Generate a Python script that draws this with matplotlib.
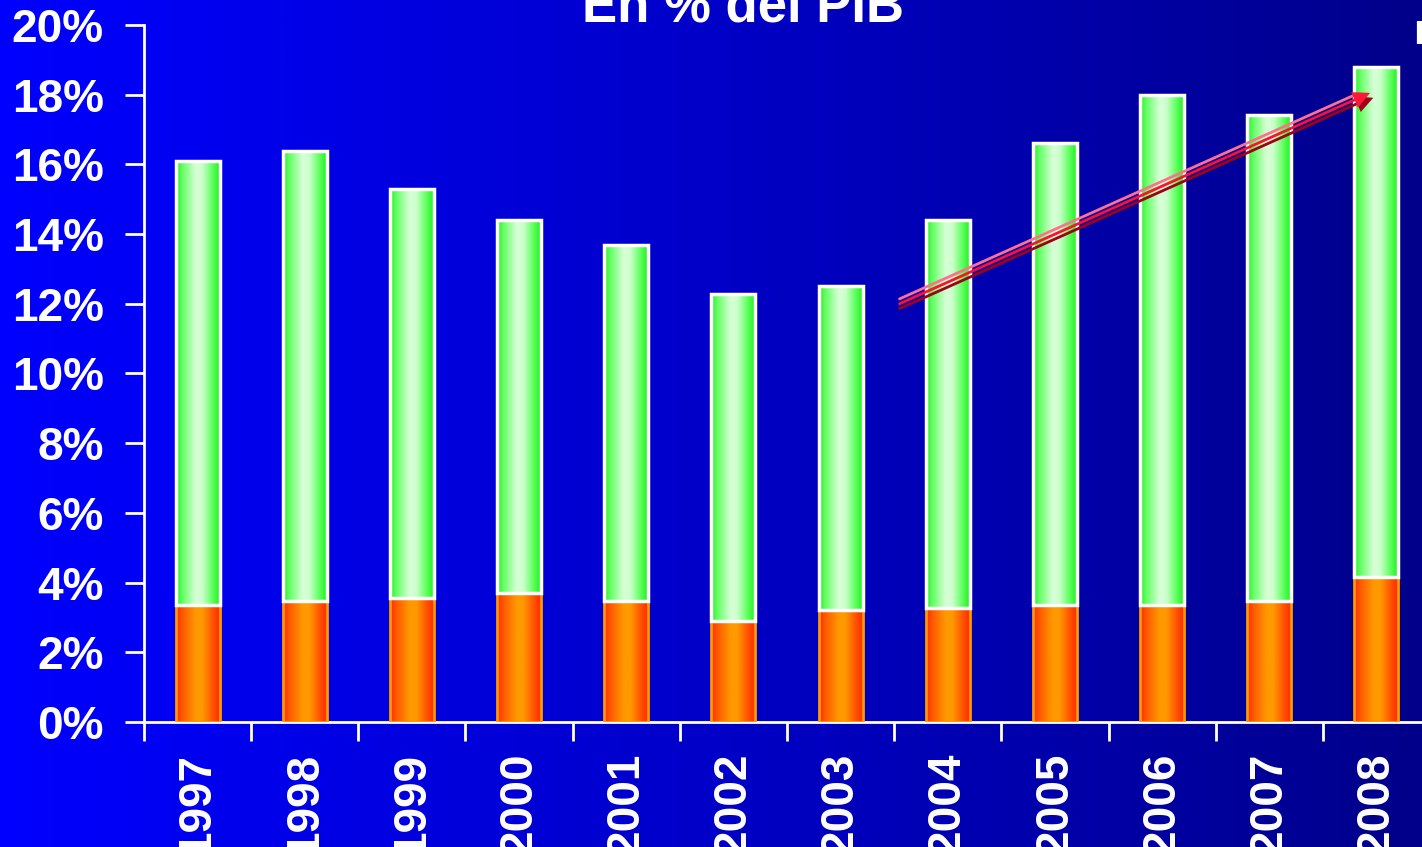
import numpy as np
import matplotlib
matplotlib.use("Agg")
import matplotlib.pyplot as plt
from matplotlib.colors import LinearSegmentedColormap

years = ["1997", "1998", "1999", "2000", "2001", "2002", "2003", "2004", "2005", "2006", "2007", "2008"]
bottom_vals = [3.36, 3.47, 3.56, 3.70, 3.47, 2.90, 3.21, 3.27, 3.36, 3.36, 3.47, 4.16]
total_vals = [16.1, 16.38, 15.29, 14.4, 13.69, 12.28, 12.51, 14.4, 16.61, 17.99, 17.42, 18.79]
top_vals = [t - b for t, b in zip(total_vals, bottom_vals)]
yticks = [0, 2, 4, 6, 8, 10, 12, 14, 16, 18, 20]
title = "En % del PIB"
arrow_start = (6.55, 12.0)
arrow_end = (10.94, 18.05)

plt.rcParams['font.family'] = ['Liberation Sans', 'DejaVu Sans']

fig = plt.figure(figsize=(14.22, 8.47), dpi=100)

# background gradient
bg = fig.add_axes([0, 0, 1, 1])
bg.set_axis_off()
bgcmap = LinearSegmentedColormap.from_list("bg", ["#0000FF", "#0000C8", "#00008A"])
grad = np.linspace(0, 1, 512)[None, :]
bg.imshow(grad, cmap=bgcmap, aspect='auto', extent=(0, 1, 0, 1))
bg.set_xlim(0, 1); bg.set_ylim(0, 1)

W, H = 1422, 847
left_px, right_px = 144, 1430
y0_px, y20_px = 722, 25
ax = fig.add_axes([left_px / W, (H - y0_px) / H, (right_px - left_px) / W, (y0_px - y20_px) / H])
ax.patch.set_alpha(0)
n = len(years)
x = np.arange(n)

width = 0.41
orange_cmap = LinearSegmentedColormap.from_list(
    "or", [(0, "#FF2A00"), (0.15, "#FF5A00"), (0.45, "#FF9900"), (0.6, "#FF9900"), (0.85, "#FF5000"), (1, "#FF2A00")])
green_cmap = LinearSegmentedColormap.from_list(
    "gr", [(0, "#22EE22"), (0.15, "#66FF66"), (0.45, "#D8FFD8"), (0.6, "#CCFFCC"), (0.85, "#55FF55"), (1, "#22EE22")])

b1 = ax.bar(x, bottom_vals, width=width, facecolor='none', edgecolor='#FF9900', linewidth=2, zorder=4)
b2 = ax.bar(x, top_vals, bottom=bottom_vals, width=width, facecolor='none', edgecolor='white', linewidth=2.5, zorder=4)

hgrad = np.linspace(0, 1, 256)[None, :]
for bars, cm in ((b1, orange_cmap), (b2, green_cmap)):
    for r in bars:
        x0, y0 = r.get_x(), r.get_y()
        ax.imshow(hgrad, cmap=cm, aspect='auto',
                  extent=(x0, x0 + r.get_width(), y0, y0 + r.get_height()), zorder=3)
ax.set_xlim(-0.5, n - 0.5)
ax.set_ylim(0, 20)

# arrow (three parallel lines)
for off, col in ((0.14, "#FF7090"), (0.0, "#FF1030"), (-0.14, "#A00018")):
    ax.annotate("", xy=(arrow_end[0], arrow_end[1] + off), xytext=(arrow_start[0], arrow_start[1] + off),
                arrowprops=dict(arrowstyle="-",
                                color=col, lw=2.0, shrinkA=0, shrinkB=10),
                zorder=6)
ax.annotate("", xy=(arrow_end[0] + 0.03, arrow_end[1] - 0.14), xytext=(arrow_end[0] - 0.3, arrow_end[1] - 0.55),
            arrowprops=dict(arrowstyle="-|>,head_length=1.2,head_width=0.6", color="#A00018", lw=0.1,
                            shrinkA=0, shrinkB=0), zorder=6)
ax.annotate("", xy=arrow_end, xytext=(arrow_end[0] - 0.3, arrow_end[1] - 0.41),
            arrowprops=dict(arrowstyle="-|>,head_length=1.2,head_width=0.6", color="#FF1838", lw=0.1,
                            shrinkA=0, shrinkB=0), zorder=7)

for s in ["top", "right"]:
    ax.spines[s].set_visible(False)
for s in ["left", "bottom"]:
    ax.spines[s].set_color("white")
    ax.spines[s].set_linewidth(2)

ax.set_yticks(yticks)
ax.set_yticklabels([f"{v}%" for v in yticks], color="white", fontsize=33, fontweight="bold")
ax.tick_params(axis='y', colors='white', length=14, width=2, direction='out', pad=15)
ax.set_xticks(np.arange(n + 1) - 0.5, minor=False)
ax.set_xticklabels([])
ax.tick_params(axis='x', colors='white', length=14, width=2, direction='out')
ax.set_xticks(x, minor=True)
ax.set_xticklabels(years, minor=True, rotation=90, color="white", fontsize=33, fontweight="bold", va="top")
ax.tick_params(axis='x', which='minor', length=0, pad=22)

fig.text(743 / W, 1 - 22 / H, title, ha='center', va='baseline', color='white', fontsize=38, fontweight='bold')
fig.text(1413 / W, 1 - 44 / H, "n", ha='left', va='baseline', color='white', fontsize=30, fontweight='bold')

fig.savefig("out.png", dpi=100)
